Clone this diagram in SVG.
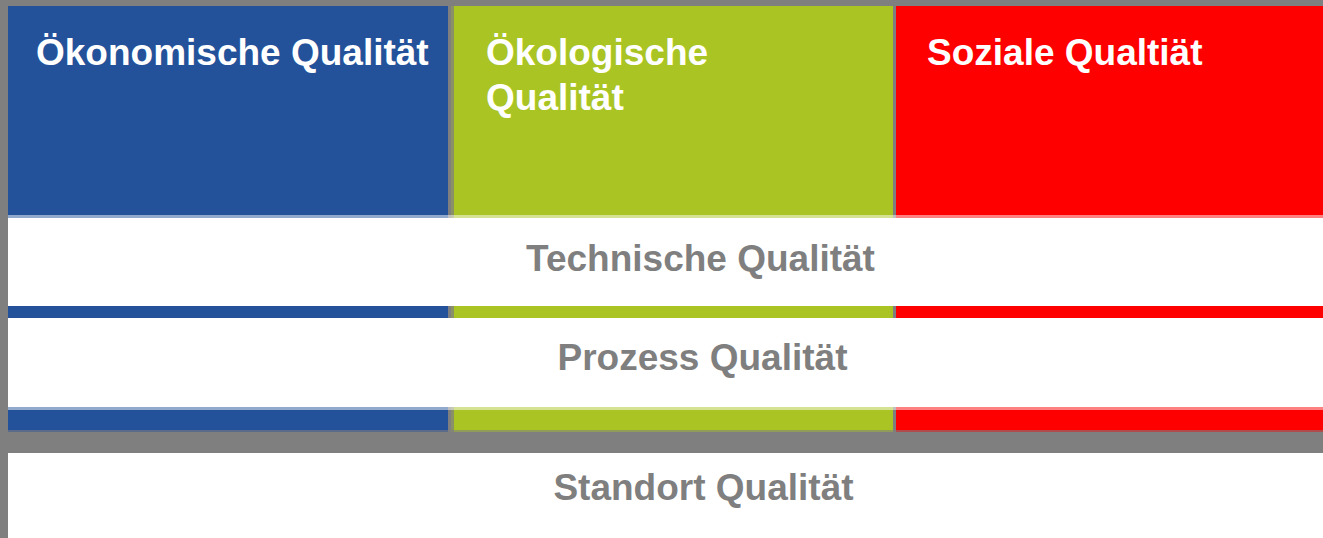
<svg xmlns="http://www.w3.org/2000/svg" width="1323" height="538" viewBox="0 0 1323 538">
  <style>
    .head { font-family: "Liberation Sans", Arial, sans-serif; font-weight: bold; font-size: 37px; fill: #ffffff; }
    .band { font-family: "Liberation Sans", Arial, sans-serif; font-weight: bold; font-size: 37px; fill: #7f7f7f; text-anchor: middle; }
    .white { fill: #ffffff; }
    .edge { fill: #ffffff; fill-opacity: 0.5; }
    .sep { fill: #7f7f7f; fill-opacity: 0.75; }
  </style>
  <rect x="0" y="0" width="1323" height="538" fill="#7f7f7f"/>
  <g id="col-oekonomisch">
    <rect x="8" y="6" width="440" height="426" fill="#23529b"/>
    <text class="head" x="36" y="65">Ökonomische Qualität</text>
  </g>
  <g id="col-oekologisch">
    <rect x="451" y="6" width="442" height="426" fill="#aac523"/>
    <text class="head" x="486" y="65">Ökologische</text>
    <text class="head" x="486" y="110">Qualität</text>
  </g>
  <g id="col-sozial">
    <rect x="896" y="6" width="427" height="426" fill="#ff0000"/>
    <text class="head" x="927" y="65">Soziale Qualtiät</text>
  </g>
  <g id="separators">
    <rect class="sep" x="448" y="6" width="6" height="426"/>
    <rect class="sep" x="893" y="6" width="3" height="426"/>
    <rect x="8" y="430" width="1315" height="2" fill="#7f7f7f" fill-opacity="0.6"/>
  </g>
  <g id="band-technisch">
    <rect class="edge" x="8" y="215" width="1315" height="3"/>
    <rect class="white" x="8" y="218" width="1315" height="88"/>
    <text class="band" x="700.5" y="271">Technische Qualität</text>
  </g>
  <g id="band-prozess">
    <rect class="white" x="8" y="318" width="1315" height="89"/>
    <rect class="edge" x="8" y="407" width="1315" height="3"/>
    <text class="band" x="702.5" y="370">Prozess Qualität</text>
  </g>
  <g id="band-standort">
    <rect class="white" x="8" y="453" width="1315" height="85"/>
    <text class="band" x="703.5" y="500">Standort Qualität</text>
  </g>
  <g id="connectors"/>
</svg>
